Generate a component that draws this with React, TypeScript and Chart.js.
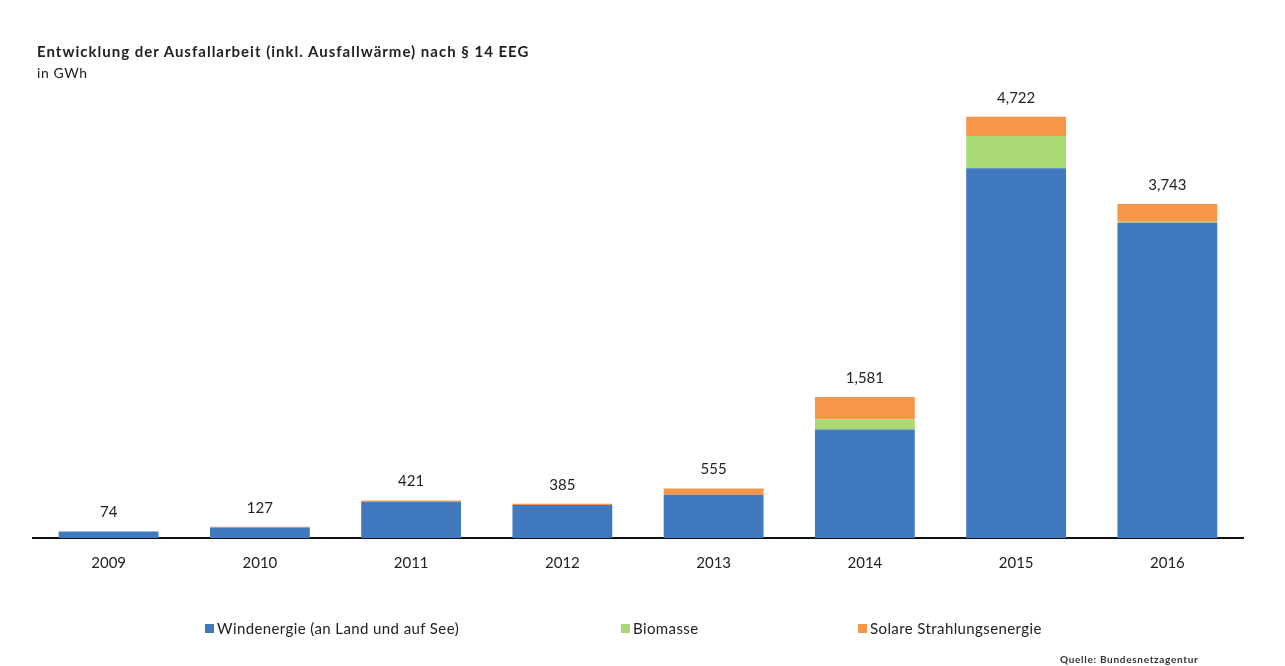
import React, { useEffect, useRef } from "react";
import { Chart, registerables } from "chart.js";

Chart.register(...registerables);

const years = ["2009", "2010", "2011", "2012", "2013", "2014", "2015", "2016"];
const wind = [72, 118, 405, 370, 485, 1217, 4144, 3535];
const biomasse = [0, 0, 0, 0, 0, 113, 362, 10];
const solar = [2, 9, 16, 15, 70, 251, 216, 198];
const totals = [74, 127, 421, 385, 555, 1581, 4722, 3743];
const totalLabels = ["74", "127", "421", "385", "555", "1,581", "4,722", "3,743"];

const seriesNames = ["Windenergie (an Land und auf See)", "Biomasse", "Solare Strahlungsenergie"];
const colors = ["#4179BF", "#A9D972", "#F6964B"];

const FONT = "Lato, 'Open Sans', sans-serif";

const totalsPlugin = {
  id: "totals",
  afterDatasetsDraw(chart: any) {
    const ctx = chart.ctx;
    const yScale = chart.scales.y;
    const meta = chart.getDatasetMeta(0);
    ctx.save();
    ctx.font = `15px ${FONT}`;
    ctx.fillStyle = "#222";
    ctx.textAlign = "center";
    ctx.textBaseline = "middle";
    meta.data.forEach((bar: any, i: number) => {
      const y = yScale.getPixelForValue(totals[i]);
      ctx.fillText(totalLabels[i], bar.x, y - 19);
    });
    ctx.restore();
  },
};

export default function App() {
  const ref = useRef<HTMLCanvasElement>(null);
  useEffect(() => {
    if (!ref.current) return;
    const chart = new Chart(ref.current, {
      type: "bar",
      data: {
        labels: years,
        datasets: [
          { label: seriesNames[0], data: wind, backgroundColor: colors[0] },
          { label: seriesNames[1], data: biomasse, backgroundColor: colors[1] },
          { label: seriesNames[2], data: solar, backgroundColor: colors[2] },
        ],
      },
      options: {
        responsive: false,
        animation: false,
        layout: { padding: { left: 33, right: 42, top: 92, bottom: 88 } },
        datasets: { bar: { categoryPercentage: 1, barPercentage: 0.66 } } as any,
        plugins: { legend: { display: false }, tooltip: { enabled: false }, title: { display: false } },
        scales: {
          x: {
            stacked: true,
            grid: { display: false, drawTicks: false },
            border: { display: true, color: "#111", width: 2 },
            ticks: { padding: 16, color: "#222", font: { family: FONT, size: 15 } },
            afterFit: (axis: any) => {
              axis.height = 40;
            },
          },
          y: {
            stacked: true,
            display: false,
            min: 0,
            max: 5000,
          },
        },
      },
      plugins: [totalsPlugin],
    });
    return () => chart.destroy();
  }, []);

  const legendItem = (i: number, left: number) => (
    <div
      key={i}
      style={{
        position: "absolute",
        left,
        top: 619,
        display: "flex",
        alignItems: "center",
        fontFamily: FONT,
        fontSize: 15,
        letterSpacing: 0.4,
        color: "#222",
        whiteSpace: "nowrap",
      }}
    >
      <span style={{ display: "inline-block", width: 9, height: 9, background: colors[i], marginRight: 3 }} />
      {seriesNames[i]}
    </div>
  );

  return (
    <div style={{ position: "fixed", left: 0, top: 0, width: 1285, height: 666, background: "#fff", overflow: "hidden" }}>
      <canvas ref={ref} width={1285} height={666} style={{ position: "absolute", left: 0, top: 0 }} />
      <div style={{ position: "absolute", left: 37, top: 42, fontFamily: FONT, fontSize: 15, letterSpacing: 1, fontWeight: 700, color: "#222", whiteSpace: "nowrap" }}>
        Entwicklung der Ausfallarbeit (inkl. Ausfallwärme) nach § 14 EEG
      </div>
      <div style={{ position: "absolute", left: 37, top: 64, fontFamily: FONT, fontSize: 14, letterSpacing: 0.6, color: "#222" }}>in GWh</div>
      {legendItem(0, 205)}
      {legendItem(1, 621)}
      {legendItem(2, 858)}
      <div style={{ position: "absolute", left: 1060, top: 653, fontFamily: FONT, fontSize: 10, letterSpacing: 0.7, fontWeight: 700, color: "#333", whiteSpace: "nowrap" }}>
        Quelle: Bundesnetzagentur
      </div>
    </div>
  );
}
